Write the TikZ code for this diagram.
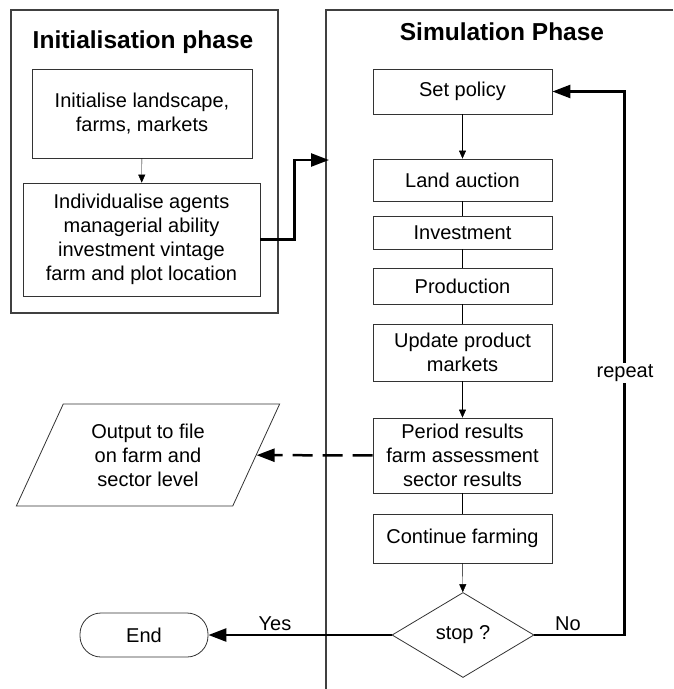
\documentclass[tikz,border=0pt]{standalone}
\usepackage{fontspec}
\setmainfont{Liberation Sans}
\usetikzlibrary{arrows.meta,shapes.geometric}
\tikzset{>/.tip={Triangle[length=8pt,width=7pt]},
  big/.tip={Triangle[length=18pt,width=13pt]},
  box/.style={draw=black!80, line width=0.8pt, minimum width=179pt, inner sep=0pt,
    align=center, font=\fontsize{20}{24}\selectfont},
  frame/.style={draw=black!75, line width=1.8pt},
  flow/.style={line width=2.5pt},
  lbl/.style={font=\fontsize{20}{24}\selectfont, inner sep=1pt},
  ttl/.style={font=\bfseries\fontsize{24.5}{28}\selectfont}}

\begin{document}
\begin{tikzpicture}[x=1pt,y=-1pt]
\useasboundingbox (0,0) rectangle (673,689);
% phase frames
\draw[frame] (11,10) rectangle (278,313);
\draw[frame] (673,10) -- (326,10) -- (326,689);
\node[ttl] (tinit) at (143,42) {Initialisation phase};
\node[ttl] (tsim) at (502,32) {Simulation Phase};

% initialisation
\node[box, minimum width=220pt, minimum height=89pt] (init) at (142,113.5) {Initialise landscape,\\farms, markets};
\node[box, minimum width=237pt, minimum height=113pt] (indiv) at (141.5,239.5) {Individualise agents\\managerial ability\\investment vintage\\farm and plot location};
\coordinate (simin) at (329,160);

% simulation
\node[box, minimum height=45pt] (policy) at (462.5,91.5) {Set policy};
\node[box, minimum height=42pt] (auction) at (462.5,180) {Land auction};
\node[box, minimum height=33pt] (invest) at (462.5,232.5) {Investment};
\node[box, minimum height=36pt] (prod) at (462.5,286) {Production};
\node[box, minimum height=57pt] (update) at (462.5,352.5) {Update product\\markets};
\node[box, minimum height=75pt] (period) at (462.5,455.5) {Period results\\farm assessment\\sector results};
\node[box, minimum height=49pt] (cont) at (462.5,538.5) {Continue farming};
\node[box, shape=diamond, minimum width=142pt, minimum height=85pt, aspect=1.67] (stop) at (463,635) {stop ?};

\node[box, rounded corners=21pt, minimum width=128pt, minimum height=44pt] (theend) at (144,635) {End};
\node[box, shape=trapezium, trapezium left angle=63.4, trapezium right angle=116.6,
  trapezium stretches=true, minimum width=264pt, minimum height=102pt] (out) at (148,455) {Output to file\\on farm and\\sector level};

\draw[->] (init) -- (indiv);
\draw[flow,-big] (indiv.east) -- ++(34,0) |- (simin);
\draw[->] (policy) -- (auction);
\draw (auction) -- (invest) -- (prod) -- (update);
\draw[->] (update) -- (period);
\draw (period) -- (cont);
\draw[->] (cont) -- (stop);
\draw[flow,dash pattern=on 20pt off 10pt,-big] (period) -- (out);
\draw[flow,-big] (stop) -- (theend);
\draw[flow,-big] (stop.east) -- ++(90,0) |- (policy.east);
\node[lbl, fill=white] (rep) at (625,373) {repeat};
\node[lbl] (no) at (568,624) {No};
\node[lbl] (yes) at (275,624) {Yes};
\end{tikzpicture}
\end{document}
